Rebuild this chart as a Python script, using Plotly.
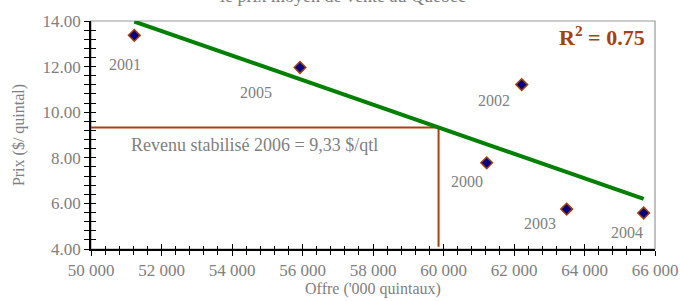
import numpy as np
import plotly.graph_objects as go

# ---- data ----
years = ["2000", "2001", "2002", "2003", "2004", "2005"]
offre = [61225, 51228, 62218, 63494, 65679, 55929]      # '000 quintaux
prix = [7.78, 13.37, 11.21, 5.75, 5.58, 11.96]           # $/quintal
revenu_stabilise = 9.33
r2_text = "R<sup>2</sup> = 0.75"
x_range = [50000, 66000]
y_range = [4, 14]
title_text = "le prix moyen de vente au Québec"
rev_text = "Revenu stabilisé 2006 = 9,33 $/qtl"

# label offsets (pixels) for year labels
label_dx = {"2000": -20, "2001": -9, "2002": -28, "2003": -27, "2004": -17, "2005": -44}
label_dy = {"2000": -19, "2001": -29, "2002": -16, "2003": -14, "2004": -20, "2005": -25}

BROWN = "#A3420F"
GREEN = "#008000"
NAVY = "#000080"
GRAY = "#808080"
FONT = "Liberation Serif"

# regression trend line
m, b = np.polyfit(offre, prix, 1)
xt = np.array([min(offre), max(offre)])
yt = m * xt + b
x_int = (revenu_stabilise - b) / m

fig = go.Figure()

fig.add_trace(go.Scatter(
    x=[x_range[0], x_int, x_int], y=[revenu_stabilise, revenu_stabilise, y_range[0] + 0.1],
    mode="lines", line=dict(color=BROWN, width=2), hoverinfo="skip", showlegend=False))

fig.add_trace(go.Scatter(
    x=xt, y=yt, mode="lines", line=dict(color=GREEN, width=4),
    hoverinfo="skip", showlegend=False))

fig.add_trace(go.Scatter(
    x=offre, y=prix, mode="markers",
    marker=dict(symbol="diamond", size=9, color=NAVY, line=dict(color=BROWN, width=1.5)),
    showlegend=False))

# invisible trace for secondary (inside-tick) axes
fig.add_trace(go.Scatter(x=[x_range[0]], y=[y_range[0]], xaxis="x2", yaxis="y2",
                         mode="markers", marker=dict(opacity=0), hoverinfo="skip",
                         showlegend=False))

for yr, xv, yv in zip(years, offre, prix):
    fig.add_annotation(x=xv, y=yv, text=yr, showarrow=False,
                       xshift=label_dx[yr], yshift=label_dy[yr],
                       font=dict(family=FONT, size=16, color=GRAY))

fig.add_annotation(x=x_range[0], y=revenu_stabilise, text=rev_text, showarrow=False,
                   xanchor="left", yanchor="top", xshift=38, yshift=-6,
                   font=dict(family=FONT, size=18, color=GRAY))

fig.add_annotation(x=0.985, y=0.935, xref="paper", yref="paper", text="<b>" + r2_text + "</b>",
                   showarrow=False, xanchor="right", yanchor="middle",
                   font=dict(family=FONT, size=22, color=BROWN))

fig.add_annotation(x=0.446, y=1.057, xref="paper", yref="paper", text=title_text,
                   showarrow=False, xanchor="center", yanchor="bottom",
                   font=dict(family=FONT, size=18, color=GRAY))

# plot border (top/right gray)
fig.add_shape(type="rect", xref="paper", yref="paper", x0=0, y0=0, x1=1, y1=1,
              line=dict(color="#999999", width=1.2), layer="below")

axis_common = dict(showgrid=False, zeroline=False, ticks="outside", tickcolor="black",
                   tickwidth=1.3, showline=True, linecolor="black", linewidth=1.5,
                   automargin=False,
                   tickfont=dict(family=FONT, size=17, color=GRAY))

fig.update_layout(
    width=680, height=301, autosize=False,
    margin=dict(l=91, r=25, t=21, b=52, autoexpand=False),
    paper_bgcolor="white", plot_bgcolor="white",
    separators=". ",
    xaxis=dict(range=x_range, dtick=2000, tickformat=",d", ticklen=5,
               minor=dict(dtick=400, ticks="outside", ticklen=4, tickcolor="black", tickwidth=1),
               title=dict(text="Offre ('000 quintaux)", standoff=0,
                          font=dict(family=FONT, size=16, color=GRAY)),
               **axis_common),
    yaxis=dict(range=y_range, dtick=2, tickformat=".2f", ticklen=5,
               minor=dict(dtick=0.4, ticks="outside", ticklen=5, tickcolor="black", tickwidth=1),
               title=dict(text="Prix ($/ quintal)", standoff=14,
                          font=dict(family=FONT, size=16, color=GRAY)),
               **axis_common),
    xaxis2=dict(range=x_range, overlaying="x", side="bottom", anchor="y2", dtick=2000,
                ticks="inside", ticklen=5, tickcolor="black", tickwidth=1.3, automargin=False,
                showticklabels=False, showgrid=False, zeroline=False, showline=False,
                minor=dict(dtick=400, ticks="inside", ticklen=3, tickcolor="black", tickwidth=1)),
    yaxis2=dict(range=y_range, overlaying="y", side="left", anchor="x2", dtick=2,
                ticks="inside", ticklen=5, tickcolor="black", tickwidth=1.3, automargin=False,
                showticklabels=False, showgrid=False, zeroline=False, showline=False,
                minor=dict(dtick=0.4, ticks="inside", ticklen=5, tickcolor="black", tickwidth=1)),
)

fig.write_html("out.html", config={"displayModeBar": False},
               post_script="document.body.style.margin='0';document.body.style.overflow='hidden';")
